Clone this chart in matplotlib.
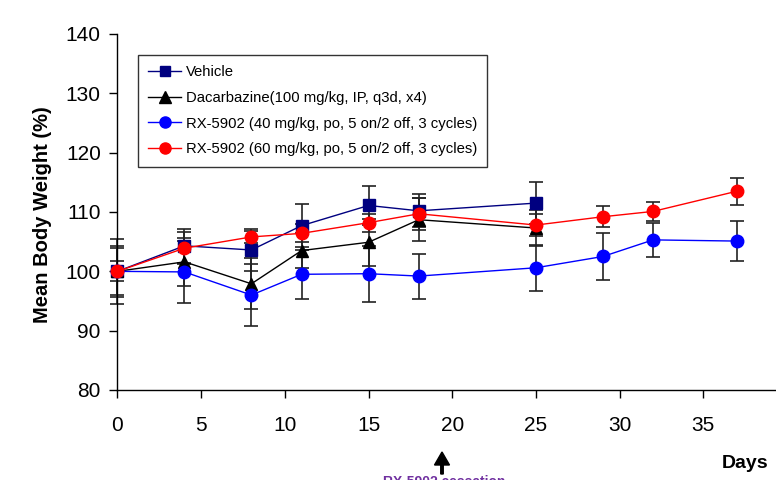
import matplotlib
matplotlib.use("Agg")
import matplotlib.pyplot as plt
from matplotlib.lines import Line2D
from matplotlib.patches import FancyArrow

plt.rcParams['font.family'] = ['Liberation Sans', 'DejaVu Sans']

days_veh = [0, 4, 8, 11, 15, 18, 25]
veh = [100, 104.3, 103.6, 107.7, 111.1, 110.2, 111.5]
veh_err = [1.7, 2.9, 3.5, 3.6, 3.3, 2.8, 3.5]

days_dac = [0, 4, 8, 11, 15, 18, 25]
dac = [100, 101.6, 97.9, 103.5, 104.9, 108.7, 107.3]
dac_err = [4.0, 4.1, 4.3, 3.0, 4.0, 3.6, 3.0]

days_rx = [0, 4, 8, 11, 15, 18, 25, 29, 32, 37]
rx40 = [100, 99.9, 96.0, 99.5, 99.6, 99.2, 100.6, 102.5, 105.3, 105.1]
rx40_err = [5.5, 5.2, 5.2, 4.1, 4.7, 3.8, 3.9, 4.0, 2.9, 3.4]
rx60 = [100, 103.9, 105.8, 106.4, 108.2, 109.7, 107.8, 109.2, 110.1, 113.5]
rx60_err = [4.3, 2.7, 1.0, 1.5, 1.5, 2.7, 1.8, 1.8, 1.6, 2.3]

labels = ["Vehicle",
          "Dacarbazine(100 mg/kg, IP, q3d, x4)",
          "RX-5902 (40 mg/kg, po, 5 on/2 off, 3 cycles)",
          "RX-5902 (60 mg/kg, po, 5 on/2 off, 3 cycles)"]
xticks = [0, 5, 10, 15, 20, 25, 30, 35, 40]
yticks = [80, 90, 100, 110, 120, 130, 140]

fig = plt.figure(figsize=(7.76, 4.8), dpi=100)
ax = fig.add_axes([117.5 / 776, 1 - 390 / 480, (787 - 117.5) / 776, 356 / 480])

series = [
    (days_veh, veh, veh_err, '#000080', 's', 8.5, labels[0]),
    (days_dac, dac, dac_err, 'black', '^', 9, labels[1]),
    (days_rx, rx40, rx40_err, '#0000FF', 'o', 9, labels[2]),
    (days_rx, rx60, rx60_err, '#FF0000', 'o', 9, labels[3]),
]
handles = []
for i, (x, y, e, c, m, ms, lab) in enumerate(series):
    ax.errorbar(x, y, yerr=e, fmt='none', ecolor='#222222', elinewidth=1.2,
                capsize=5, capthick=1.2, zorder=2 + i * 0.1, clip_on=False)
    ax.plot(x, y, color=c, lw=1.0, marker=m, markersize=ms,
            markerfacecolor=c, markeredgecolor=c, zorder=3 + i, clip_on=False)
    handles.append(Line2D([], [], color=c, lw=1.0, marker=m, markersize=ms - 1,
                          markerfacecolor=c, markeredgecolor=c))

ax.set_xlim(0, 40)
ax.set_ylim(80, 140)
ax.set_xticks(xticks)
ax.set_yticks(yticks)
ax.tick_params(axis='both', direction='out', length=6, width=1, labelsize=15,
               color='black')
ax.tick_params(axis='x', pad=13)
ax.tick_params(axis='y', pad=6)
for s in ['top', 'right']:
    ax.spines[s].set_visible(False)
for s in ['left', 'bottom']:
    ax.spines[s].set_linewidth(1.0)
    ax.spines[s].set_color('black')

fig.text(43 / 776, 1 - 215 / 480, "Mean Body Weight (%)", rotation=90,
         fontsize=14.5, fontweight='bold', ha='center', va='center')
fig.text(745 / 776, 1 - 463 / 480, "Days", fontsize=14, fontweight='bold',
         ha='center', va='center')

leg = ax.legend(handles, labels, loc='upper left',
                bbox_to_anchor=((138 - 117.5) / (787 - 117.5), (390 - 55) / 356),
                fontsize=10.7, frameon=True, fancybox=False, edgecolor='black',
                handlelength=2.2, handletextpad=0.3, labelspacing=0.78,
                borderpad=0.7, borderaxespad=0)
leg.get_frame().set_linewidth(1.0)

fig.patches.append(FancyArrow(
    442 / 776, 1 - 474 / 480, 0, (474 - 452) / 480, width=2.5 / 776,
    head_width=15 / 776, head_length=13 / 480, length_includes_head=True,
    color='black', transform=fig.transFigure))
fig.text(383 / 776, 1 - 475 / 480, "RX-5902 cessation", fontsize=10,
         fontweight='bold', color='#7030A0', ha='left', va='top')

fig.savefig("out.png", dpi=100)
